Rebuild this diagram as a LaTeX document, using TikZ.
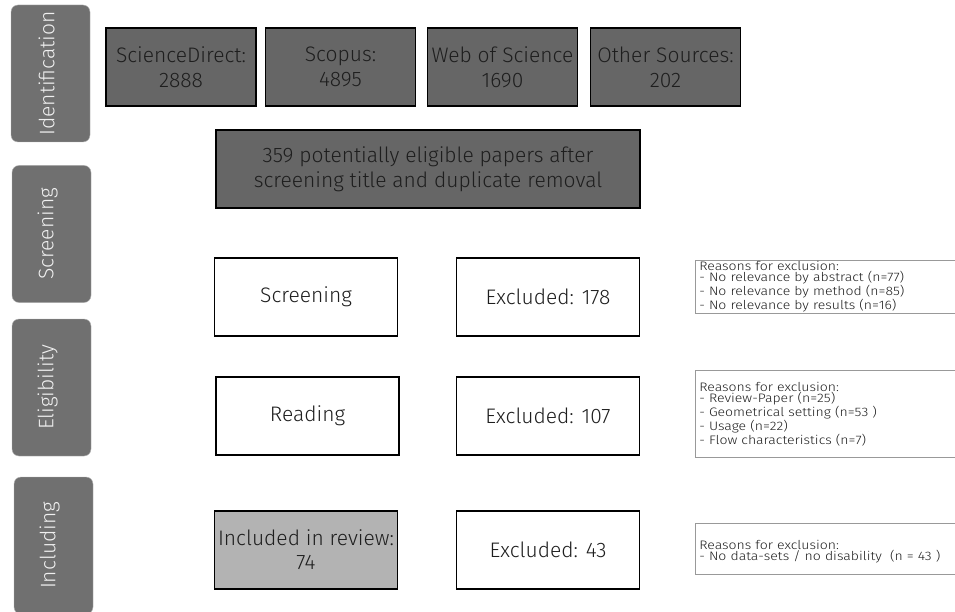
\documentclass[tikz,border=0pt]{standalone}
\usepackage{fontspec}
\setmainfont{Fira Sans}[UprightFont={* Light}]
\newfontfamily\reasonfont{Fira Sans}[UprightFont={* Light},FakeStretch=1.14]
\definecolor{darkbox}{HTML}{666666}
\definecolor{sidebox}{HTML}{707070}
\definecolor{lightbox}{HTML}{B3B3B3}
\definecolor{txt}{HTML}{1E1E1E}
\begin{document}
\begin{tikzpicture}[x=1pt,y=-1pt,
  sidelabel/.style={draw=gray!60,fill=sidebox,rounded corners=7pt,minimum width=79pt,minimum height=137pt,inner sep=0pt},
  sidetext/.style={text=white!94!black,font=\fontsize{21}{24}\selectfont,rotate=90,inner sep=0pt},
  srcbox/.style={draw=black,line width=1.3pt,fill=darkbox,minimum width=150pt,minimum height=78pt,inner sep=0pt,text=txt,align=center,font=\fontsize{21}{25}\selectfont},
  stepbox/.style={draw=black,line width=1.3pt,fill=white,minimum width=183pt,minimum height=78pt,inner sep=0pt,text=txt,align=center,font=\fontsize{21}{24}\selectfont},
  reasonbox/.style={draw=gray!80,line width=0.6pt,fill=white,anchor=north west,inner xsep=4pt,inner ysep=1pt,text width=290pt,align=left,text=txt,font=\reasonfont\fontsize{12.3}{10.4}\selectfont}]
\useasboundingbox[fill=white] (0,0) rectangle (955,612);
% phase labels
\node[sidelabel] (idl) at (50.5,73.5) {};
\node[sidetext] (idt) at ([xshift=-4pt]idl.center) {Identification};
\node[sidelabel] (scl) at (51.5,234) {};
\node[sidetext] (sct) at ([xshift=-4pt]scl.center) {Screening};
\node[sidelabel] (ell) at (51.5,387.5) {};
\node[sidetext] (elt) at ([xshift=-4pt]ell.center) {Eligibility};
\node[sidelabel] (inl) at (53.5,545.5) {};
\node[sidetext] (int) at ([xshift=-4pt]inl.center) {Including};
% sources
\node[srcbox] (sd) at (181,67) {ScienceDirect:\\2888};
\node[srcbox] (sc) at (340.5,67) {Scopus:\\4895};
\node[srcbox] (ws) at (502.5,67) {Web of Science\\1690};
\node[srcbox] (os) at (665.5,67) {Other Sources:\\202};
\node[srcbox,minimum width=424pt] (pot) at (428,169) {359 potentially eligible papers after\\screening title and duplicate removal};
% steps
\node[stepbox] (scr) at (306,297) {Screening};
\node[stepbox] (ex1) at (548,297) {Excluded: 178};
\node[stepbox] (rea) at (307.5,416) {Reading};
\node[stepbox] (ex2) at (548,416) {Excluded: 107};
\node[stepbox,fill=lightbox] (inc) at (306,550) {Included in review:\\74};
\node[stepbox] (ex3) at (548,550) {Excluded: 43};
% reasons
\node[reasonbox,minimum height=43pt] (r1) at (695,260) {Reasons for exclusion:\\- No relevance by abstract (n=77)\\- No relevance by method (n=85)\\- No relevance by results (n=16)};
\node[reasonbox,minimum height=87pt] (r2) at (695,370) {Reasons for exclusion:\\- Review-Paper (n=25)\\- Geometrical setting (n=53 )\\- Usage (n=22)\\- Flow characteristics (n=7)};
\node[reasonbox,minimum height=51pt,inner ysep=0pt] (r3) at (695,523) {\rule{0pt}{15pt}Reasons for exclusion:\\- No data-sets / no disability\ \ (n = 43 )};
\end{tikzpicture}
\end{document}
